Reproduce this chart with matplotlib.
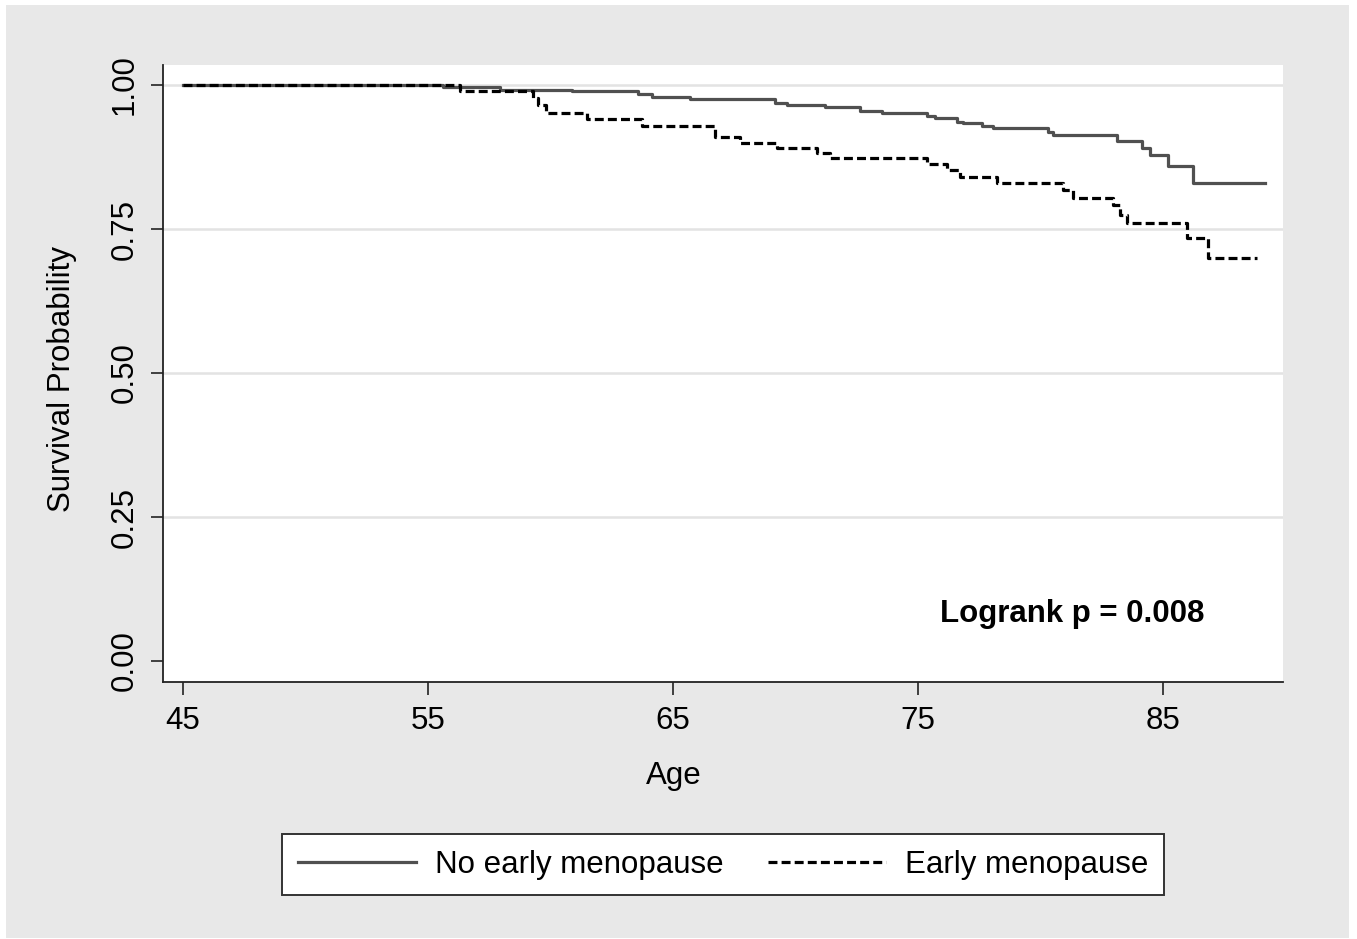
import numpy as np
import matplotlib
matplotlib.use("Agg")
import matplotlib.pyplot as plt
from matplotlib.patches import Rectangle
from matplotlib.lines import Line2D

plt.rcParams['font.family'] = ['Liberation Sans', 'DejaVu Sans']

# Kaplan-Meier steps (age, survival after the step)
idade_sem = [45.0, 55.6, 57.94, 60.88, 63.57, 64.14, 65.69, 69.16, 69.65, 71.20,
             72.63, 73.53, 75.37, 75.69, 76.59, 76.84, 77.61, 78.06, 80.31, 80.51,
             83.12, 84.14, 84.47, 85.20, 86.22, 89.16]
surv_sem = [1.000, 0.996, 0.991, 0.989, 0.985, 0.980, 0.975, 0.968, 0.965, 0.961,
            0.955, 0.951, 0.947, 0.942, 0.936, 0.934, 0.929, 0.925, 0.919, 0.913,
            0.903, 0.891, 0.878, 0.859, 0.830, 0.830]

idade_com = [45.0, 56.31, 59.29, 59.49, 59.82, 61.49, 63.73, 66.71, 67.73, 69.24,
             70.88, 71.41, 75.37, 76.18, 76.71, 78.22, 80.92, 81.33, 82.96, 83.24,
             83.53, 85.98, 86.84, 88.84]
surv_com = [1.000, 0.990, 0.977, 0.965, 0.952, 0.941, 0.929, 0.910, 0.899, 0.891,
            0.882, 0.874, 0.862, 0.852, 0.841, 0.829, 0.818, 0.804, 0.792, 0.774,
            0.761, 0.735, 0.700, 0.700]

XTICKS = [45, 55, 65, 75, 85]
YTICKS = [0.00, 0.25, 0.50, 0.75, 1.00]
ROTULOS = ["No early menopause", "Early menopause"]

FS = 22.5
LW = 2.3
TRACO = (2.8, 1.3)

W, H = 1357, 939
fig = plt.figure(figsize=(W / 100, H / 100), dpi=100, facecolor='white')
fig.patches.append(Rectangle((6 / W, 1 - 938 / H), (1349 - 6) / W, (938 - 5) / H,
                             transform=fig.transFigure, facecolor='#e8e8e8',
                             edgecolor='none', zorder=-10))

ax = fig.add_axes([163 / W, 1 - 682 / H, (1283 - 163) / W, (682 - 65) / H])
ax.set_facecolor('white')

for y in YTICKS[1:]:
    ax.axhline(y, color='#e3e3e3', lw=1.8, zorder=0)

ax.step(idade_sem, surv_sem, where='post', color='#505050', lw=LW, zorder=3)
ax.step(idade_com, surv_com, where='post', color='black', lw=LW,
        dashes=TRACO, zorder=3)

ax.set_xlim(45 - 20 / 24.5, 45 + 1100 / 24.5)
ax.set_ylim(-21 / 576, 1 + 20 / 576)
ax.set_xticks(XTICKS)
ax.set_yticks(YTICKS)
ax.set_yticklabels([f"{v:.2f}" for v in YTICKS], rotation=90, va='center')
ax.tick_params(axis='both', direction='out', length=9, width=1.2,
               labelsize=FS, pad=8, color='#222222')

for s in ['top', 'right']:
    ax.spines[s].set_visible(False)
for s in ['left', 'bottom']:
    ax.spines[s].set_linewidth(1.3)
    ax.spines[s].set_color('#222222')

ax.text(45 + (1204 - 183) / 24.5, (661 - 614) / 576, "Logrank p = 0.008",
        ha='right', va='center', fontsize=FS, fontweight='bold')

fig.text(62.5 / W, 1 - 379 / H, "Survival Probability", rotation=90,
         ha='center', va='center', fontsize=FS)
fig.text(674 / W, 1 - 776 / H, "Age", ha='center', va='center', fontsize=FS)

handles = [Line2D([], [], color='#505050', lw=LW),
           Line2D([], [], color='black', lw=LW, dashes=TRACO)]
leg = fig.legend(handles, ROTULOS, loc='center', ncol=2,
                 bbox_to_anchor=(723 / W, 1 - 864.5 / H), fontsize=FS,
                 frameon=True, fancybox=False, framealpha=1, edgecolor='#333333',
                 handlelength=3.8, handletextpad=0.6, columnspacing=1.4,
                 borderpad=0.5, borderaxespad=0)
leg.get_frame().set_linewidth(1.4)

fig.savefig("out.png", dpi=100, facecolor=fig.get_facecolor())
